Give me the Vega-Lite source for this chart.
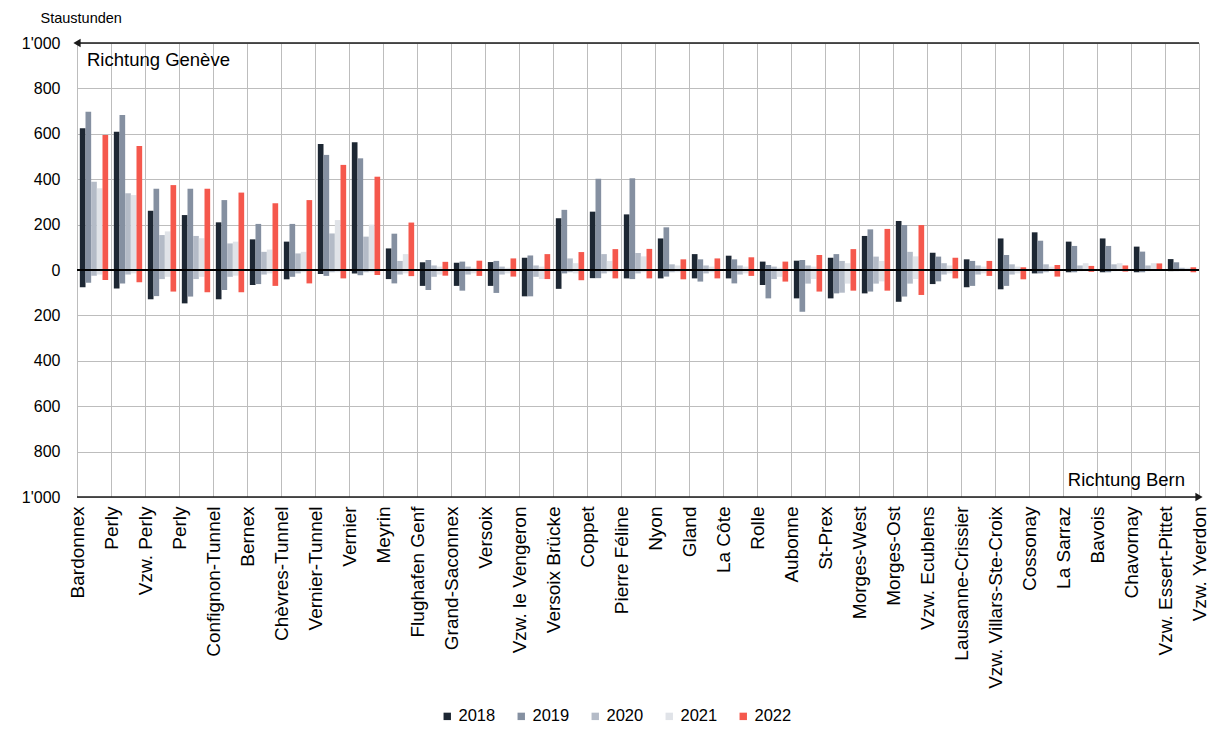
{
  "$schema": "https://vega.github.io/schema/vega-lite/v6.json",
  "autosize": "none",
  "width": 1122,
  "height": 454,
  "padding": {"left": 77, "top": 43, "right": 16, "bottom": 243},
  "background": "white",
  "config": {
    "font": "Liberation Sans",
    "view": {"stroke": null},
    "axis": {"labelFont": "Liberation Sans", "titleFont": "Liberation Sans"},
    "legend": {"labelFont": "Liberation Sans"}
  },
  "datasets": {
    "bars": [
      {"s":"Bardonnex","yr":"2018","g":624,"b":-76},{"s":"Bardonnex","yr":"2019","g":697,"b":-56},{"s":"Bardonnex","yr":"2020","g":389,"b":-25},{"s":"Bardonnex","yr":"2021","g":360,"b":-20},{"s":"Bardonnex","yr":"2022","g":595,"b":-44},
      {"s":"Perly","yr":"2018","g":609,"b":-81},{"s":"Perly","yr":"2019","g":683,"b":-59},{"s":"Perly","yr":"2020","g":338,"b":-20},{"s":"Perly","yr":"2021","g":330,"b":-15},{"s":"Perly","yr":"2022","g":546,"b":-54},
      {"s":"Vzw. Perly","yr":"2018","g":261,"b":-129},{"s":"Vzw. Perly","yr":"2019","g":358,"b":-115},{"s":"Vzw. Perly","yr":"2020","g":154,"b":-40},{"s":"Vzw. Perly","yr":"2021","g":170,"b":-30},{"s":"Vzw. Perly","yr":"2022","g":374,"b":-95},
      {"s":"Perly#2","yr":"2018","g":242,"b":-147},{"s":"Perly#2","yr":"2019","g":358,"b":-117},{"s":"Perly#2","yr":"2020","g":150,"b":-40},{"s":"Perly#2","yr":"2021","g":140,"b":-30},{"s":"Perly#2","yr":"2022","g":358,"b":-98},
      {"s":"Confignon-Tunnel","yr":"2018","g":210,"b":-129},{"s":"Confignon-Tunnel","yr":"2019","g":308,"b":-88},{"s":"Confignon-Tunnel","yr":"2020","g":117,"b":-30},{"s":"Confignon-Tunnel","yr":"2021","g":125,"b":-25},{"s":"Confignon-Tunnel","yr":"2022","g":341,"b":-98},
      {"s":"Bernex","yr":"2018","g":135,"b":-66},{"s":"Bernex","yr":"2019","g":203,"b":-62},{"s":"Bernex","yr":"2020","g":80,"b":-20},{"s":"Bernex","yr":"2021","g":90,"b":-15},{"s":"Bernex","yr":"2022","g":294,"b":-70},
      {"s":"Chèvres-Tunnel","yr":"2018","g":125,"b":-41},{"s":"Chèvres-Tunnel","yr":"2019","g":203,"b":-30},{"s":"Chèvres-Tunnel","yr":"2020","g":73,"b":-15},{"s":"Chèvres-Tunnel","yr":"2021","g":80,"b":-10},{"s":"Chèvres-Tunnel","yr":"2022","g":308,"b":-59},
      {"s":"Vernier-Tunnel","yr":"2018","g":555,"b":-18},{"s":"Vernier-Tunnel","yr":"2019","g":507,"b":-26},{"s":"Vernier-Tunnel","yr":"2020","g":161,"b":-10},{"s":"Vernier-Tunnel","yr":"2021","g":220,"b":-10},{"s":"Vernier-Tunnel","yr":"2022","g":463,"b":-37},
      {"s":"Vernier","yr":"2018","g":563,"b":-15},{"s":"Vernier","yr":"2019","g":492,"b":-23},{"s":"Vernier","yr":"2020","g":147,"b":-10},{"s":"Vernier","yr":"2021","g":200,"b":-10},{"s":"Vernier","yr":"2022","g":411,"b":-22},
      {"s":"Meyrin","yr":"2018","g":95,"b":-40},{"s":"Meyrin","yr":"2019","g":160,"b":-59},{"s":"Meyrin","yr":"2020","g":40,"b":-20},{"s":"Meyrin","yr":"2021","g":70,"b":-15},{"s":"Meyrin","yr":"2022","g":209,"b":-27},
      {"s":"Flughafen Genf","yr":"2018","g":34,"b":-70},{"s":"Flughafen Genf","yr":"2019","g":44,"b":-88},{"s":"Flughafen Genf","yr":"2020","g":20,"b":-30},{"s":"Flughafen Genf","yr":"2021","g":15,"b":-20},{"s":"Flughafen Genf","yr":"2022","g":36,"b":-25},
      {"s":"Grand-Saconnex","yr":"2018","g":32,"b":-70},{"s":"Grand-Saconnex","yr":"2019","g":37,"b":-91},{"s":"Grand-Saconnex","yr":"2020","g":15,"b":-20},{"s":"Grand-Saconnex","yr":"2021","g":10,"b":-15},{"s":"Grand-Saconnex","yr":"2022","g":41,"b":-26},
      {"s":"Versoix","yr":"2018","g":35,"b":-70},{"s":"Versoix","yr":"2019","g":40,"b":-101},{"s":"Versoix","yr":"2020","g":15,"b":-20},{"s":"Versoix","yr":"2021","g":10,"b":-15},{"s":"Versoix","yr":"2022","g":51,"b":-29},
      {"s":"Vzw. le Vengeron","yr":"2018","g":54,"b":-116},{"s":"Vzw. le Vengeron","yr":"2019","g":64,"b":-116},{"s":"Vzw. le Vengeron","yr":"2020","g":20,"b":-30},{"s":"Vzw. le Vengeron","yr":"2021","g":15,"b":-40},{"s":"Vzw. le Vengeron","yr":"2022","g":70,"b":-40},
      {"s":"Versoix Brücke","yr":"2018","g":228,"b":-83},{"s":"Versoix Brücke","yr":"2019","g":265,"b":-15},{"s":"Versoix Brücke","yr":"2020","g":51,"b":-10},{"s":"Versoix Brücke","yr":"2021","g":30,"b":-15},{"s":"Versoix Brücke","yr":"2022","g":79,"b":-45},
      {"s":"Coppet","yr":"2018","g":257,"b":-36},{"s":"Coppet","yr":"2019","g":402,"b":-36},{"s":"Coppet","yr":"2020","g":70,"b":-15},{"s":"Coppet","yr":"2021","g":40,"b":-10},{"s":"Coppet","yr":"2022","g":92,"b":-37},
      {"s":"Pierre Féline","yr":"2018","g":245,"b":-37},{"s":"Pierre Féline","yr":"2019","g":404,"b":-40},{"s":"Pierre Féline","yr":"2020","g":75,"b":-15},{"s":"Pierre Féline","yr":"2021","g":60,"b":-10},{"s":"Pierre Féline","yr":"2022","g":93,"b":-37},
      {"s":"Nyon","yr":"2018","g":139,"b":-37},{"s":"Nyon","yr":"2019","g":188,"b":-29},{"s":"Nyon","yr":"2020","g":25,"b":-10},{"s":"Nyon","yr":"2021","g":20,"b":-10},{"s":"Nyon","yr":"2022","g":47,"b":-41},
      {"s":"Gland","yr":"2018","g":70,"b":-37},{"s":"Gland","yr":"2019","g":47,"b":-51},{"s":"Gland","yr":"2020","g":20,"b":-15},{"s":"Gland","yr":"2021","g":15,"b":-10},{"s":"Gland","yr":"2022","g":51,"b":-37},
      {"s":"La Côte","yr":"2018","g":63,"b":-37},{"s":"La Côte","yr":"2019","g":47,"b":-59},{"s":"La Côte","yr":"2020","g":20,"b":-20},{"s":"La Côte","yr":"2021","g":15,"b":-15},{"s":"La Côte","yr":"2022","g":56,"b":-26},
      {"s":"Rolle","yr":"2018","g":37,"b":-66},{"s":"Rolle","yr":"2019","g":22,"b":-125},{"s":"Rolle","yr":"2020","g":15,"b":-40},{"s":"Rolle","yr":"2021","g":10,"b":-30},{"s":"Rolle","yr":"2022","g":37,"b":-51},
      {"s":"Aubonne","yr":"2018","g":41,"b":-125},{"s":"Aubonne","yr":"2019","g":44,"b":-184},{"s":"Aubonne","yr":"2020","g":20,"b":-60},{"s":"Aubonne","yr":"2021","g":15,"b":-40},{"s":"Aubonne","yr":"2022","g":66,"b":-95},
      {"s":"St-Prex","yr":"2018","g":54,"b":-125},{"s":"St-Prex","yr":"2019","g":70,"b":-103},{"s":"St-Prex","yr":"2020","g":40,"b":-100},{"s":"St-Prex","yr":"2021","g":30,"b":-60},{"s":"St-Prex","yr":"2022","g":92,"b":-91},
      {"s":"Morges-West","yr":"2018","g":150,"b":-103},{"s":"Morges-West","yr":"2019","g":179,"b":-95},{"s":"Morges-West","yr":"2020","g":59,"b":-60},{"s":"Morges-West","yr":"2021","g":40,"b":-50},{"s":"Morges-West","yr":"2022","g":181,"b":-91},
      {"s":"Morges-Ost","yr":"2018","g":216,"b":-140},{"s":"Morges-Ost","yr":"2019","g":198,"b":-117},{"s":"Morges-Ost","yr":"2020","g":80,"b":-60},{"s":"Morges-Ost","yr":"2021","g":60,"b":-40},{"s":"Morges-Ost","yr":"2022","g":198,"b":-110},
      {"s":"Vzw. Ecublens","yr":"2018","g":76,"b":-62},{"s":"Vzw. Ecublens","yr":"2019","g":59,"b":-50},{"s":"Vzw. Ecublens","yr":"2020","g":30,"b":-20},{"s":"Vzw. Ecublens","yr":"2021","g":20,"b":-15},{"s":"Vzw. Ecublens","yr":"2022","g":54,"b":-37},
      {"s":"Lausanne-Crissier","yr":"2018","g":47,"b":-76},{"s":"Lausanne-Crissier","yr":"2019","g":40,"b":-70},{"s":"Lausanne-Crissier","yr":"2020","g":20,"b":-20},{"s":"Lausanne-Crissier","yr":"2021","g":15,"b":-15},{"s":"Lausanne-Crissier","yr":"2022","g":40,"b":-26},
      {"s":"Vzw. Villars-Ste-Croix","yr":"2018","g":139,"b":-85},{"s":"Vzw. Villars-Ste-Croix","yr":"2019","g":66,"b":-70},{"s":"Vzw. Villars-Ste-Croix","yr":"2020","g":25,"b":-20},{"s":"Vzw. Villars-Ste-Croix","yr":"2021","g":15,"b":-15},{"s":"Vzw. Villars-Ste-Croix","yr":"2022","g":12,"b":-41},
      {"s":"Cossonay","yr":"2018","g":166,"b":-15},{"s":"Cossonay","yr":"2019","g":129,"b":-15},{"s":"Cossonay","yr":"2020","g":25,"b":-10},{"s":"Cossonay","yr":"2021","g":15,"b":-5},{"s":"Cossonay","yr":"2022","g":22,"b":-29},
      {"s":"La Sarraz","yr":"2018","g":125,"b":-10},{"s":"La Sarraz","yr":"2019","g":106,"b":-10},{"s":"La Sarraz","yr":"2020","g":20,"b":-5},{"s":"La Sarraz","yr":"2021","g":30,"b":-5},{"s":"La Sarraz","yr":"2022","g":18,"b":-8},
      {"s":"Bavois","yr":"2018","g":139,"b":-10},{"s":"Bavois","yr":"2019","g":106,"b":-10},{"s":"Bavois","yr":"2020","g":25,"b":-5},{"s":"Bavois","yr":"2021","g":30,"b":-5},{"s":"Bavois","yr":"2022","g":20,"b":-7},
      {"s":"Chavornay","yr":"2018","g":103,"b":-10},{"s":"Chavornay","yr":"2019","g":81,"b":-10},{"s":"Chavornay","yr":"2020","g":20,"b":-5},{"s":"Chavornay","yr":"2021","g":30,"b":-5},{"s":"Chavornay","yr":"2022","g":29,"b":-3},
      {"s":"Vzw. Essert-Pittet","yr":"2018","g":48,"b":-5},{"s":"Vzw. Essert-Pittet","yr":"2019","g":34,"b":-5},{"s":"Vzw. Essert-Pittet","yr":"2020","g":10,"b":-5},{"s":"Vzw. Essert-Pittet","yr":"2021","g":10,"b":-5},{"s":"Vzw. Essert-Pittet","yr":"2022","g":12,"b":-10}
    ],
    "notes": [{"genf": "Richtung Genève", "bern": "Richtung Bern"}]
  },
  "layer": [
    {
      "data": {"name": "bars"},
      "mark": {"type": "bar"},
      "encoding": {
        "x": {
          "field": "s", "type": "nominal",
          "scale": {"type": "band", "paddingInner": 0, "paddingOuter": 0, "round": false,
            "domain": ["Bardonnex","Perly","Vzw. Perly","Perly#2","Confignon-Tunnel","Bernex","Chèvres-Tunnel","Vernier-Tunnel","Vernier","Meyrin","Flughafen Genf","Grand-Saconnex","Versoix","Vzw. le Vengeron","Versoix Brücke","Coppet","Pierre Féline","Nyon","Gland","La Côte","Rolle","Aubonne","St-Prex","Morges-West","Morges-Ost","Vzw. Ecublens","Lausanne-Crissier","Vzw. Villars-Ste-Croix","Cossonay","La Sarraz","Bavois","Chavornay","Vzw. Essert-Pittet"]},
          "axis": null
        },
        "xOffset": {"field": "yr", "type": "nominal", "scale": {"paddingInner": 0, "paddingOuter": 0.5, "round": false}},
        "y": {
          "field": "g", "type": "quantitative",
          "scale": {"domain": [-1000, 1000], "nice": false, "zero": false},
          "axis": {
            "values": [-1000,-800,-600,-400,-200,0,200,400,600,800,1000],
            "labelExpr": "replace(format(abs(datum.value), ','), ',', \"'\")",
            "grid": true, "gridColor": "#bdbdbd", "gridWidth": 1,
            "domain": false, "ticks": false, "labelPadding": 17,
            "labelFontSize": 16, "labelColor": "#000000",
            "title": "Staustunden", "titleAngle": 0, "titleX": -37, "titleY": -25,
            "titleAlign": "left", "titleBaseline": "middle",
            "titleFontSize": 14.5, "titleFontWeight": "normal", "titleColor": "#000000"
          }
        },
        "y2": {"field": "b"},
        "color": {
          "field": "yr", "type": "nominal",
          "scale": {"domain": ["2018","2019","2020","2021","2022"], "range": ["#1d2733","#8590a1","#b4bbc7","#e0e3e8","#f5584d"]},
          "legend": {
            "orient": "none", "legendX": 362, "legendY": 665, "direction": "horizontal",
            "title": null, "symbolType": "square", "symbolSize": 55, "symbolStrokeWidth": 0,
            "labelFontSize": 16.5, "labelColor": "#000000", "labelOffset": 3, "columnPadding": 17
          }
        }
      }
    },
    {
      "data": {"name": "notes"},
      "layer": [
        {
          "mark": {"type": "rule", "color": "#000000", "strokeWidth": 2},
          "encoding": {"y": {"datum": 0}}
        },
        {
          "mark": {"type": "rule", "color": "#1a1a1a", "strokeWidth": 1.5},
          "encoding": {"y": {"datum": 1000}}
        },
        {
          "mark": {"type": "rule", "color": "#1a1a1a", "strokeWidth": 1.5},
          "encoding": {"y": {"datum": -1000}}
        },
        {
          "mark": {"type": "point", "shape": "triangle-left", "filled": true, "size": 70, "opacity": 1, "color": "#1a1a1a"},
          "encoding": {
            "x": {
              "datum": "Bardonnex", "type": "nominal",
              "scale": {"type": "point", "padding": 0, "round": false,
                "domain": ["Bardonnex","Perly","Vzw. Perly","Perly#2","Confignon-Tunnel","Bernex","Chèvres-Tunnel","Vernier-Tunnel","Vernier","Meyrin","Flughafen Genf","Grand-Saconnex","Versoix","Vzw. le Vengeron","Versoix Brücke","Coppet","Pierre Féline","Nyon","Gland","La Côte","Rolle","Aubonne","St-Prex","Morges-West","Morges-Ost","Vzw. Ecublens","Lausanne-Crissier","Vzw. Villars-Ste-Croix","Cossonay","La Sarraz","Bavois","Chavornay","Vzw. Essert-Pittet","Vzw. Yverdon"]},
              "axis": {
                "title": null, "labelAngle": -90, "labelAlign": "right", "labelBaseline": "middle",
                "labelExpr": "replace(datum.label, '#2', '')",
                "labelFontSize": 19, "labelColor": "#000000", "labelPadding": 9, "labelLimit": 0,
                "ticks": false, "domain": false, "labelOverlap": false, "labelBound": false,
                "grid": true, "gridColor": "#bdbdbd", "gridWidth": 1
              }
            },
            "y": {"datum": 1000}
          }
        },
        {
          "mark": {"type": "point", "shape": "triangle-right", "filled": true, "size": 70, "opacity": 1, "color": "#1a1a1a"},
          "encoding": {
            "x": {"datum": "Vzw. Yverdon", "type": "nominal"},
            "y": {"datum": -1000}
          }
        },
        {
          "mark": {"type": "text", "align": "left", "baseline": "middle", "dx": 10, "dy": 17, "fontSize": 18.5, "color": "#000000"},
          "encoding": {
            "x": {"datum": "Bardonnex", "type": "nominal"},
            "y": {"datum": 1000},
            "text": {"field": "genf"}
          }
        },
        {
          "mark": {"type": "text", "align": "right", "baseline": "middle", "dx": -14, "dy": -17, "fontSize": 18.5, "color": "#000000"},
          "encoding": {
            "x": {"datum": "Vzw. Yverdon", "type": "nominal"},
            "y": {"datum": -1000},
            "text": {"field": "bern"}
          }
        }
      ]
    }
  ],
  "resolve": {"scale": {"x": "independent", "xOffset": "independent"}, "axis": {"x": "independent"}}
}
